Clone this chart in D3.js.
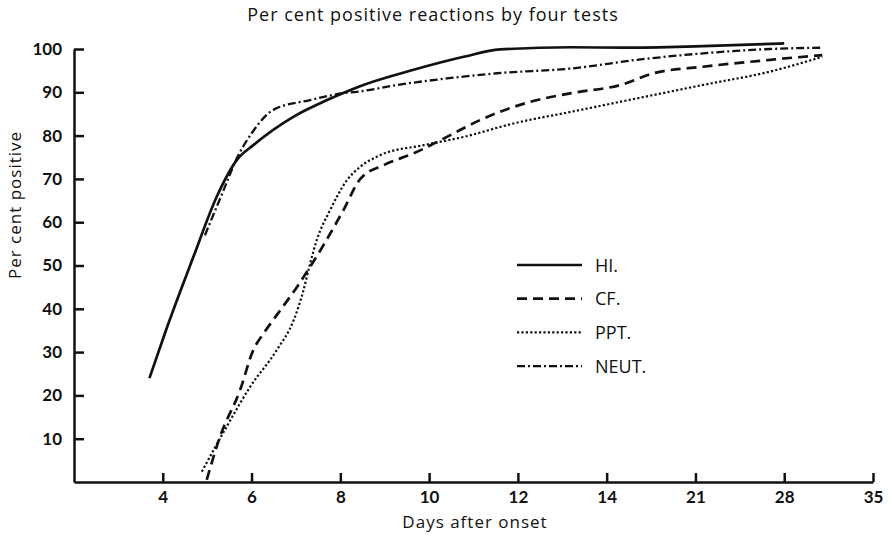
<!doctype html>
<html>
  <head>
    <script src="https://d3js.org/d3.v7.min.js"></script>
    <style>
      body { margin: 0; background: #fff; }
    </style>
  </head>
  <body>
    <script>
    // days on the x axis are not evenly spaced: 4..14 by 2, then weekly
    var dayTicks = [4, 6, 8, 10, 12, 14, 21, 28, 35];
    var dayBreaks = [2, 4, 6, 8, 10, 12, 14, 21, 28, 35];
    var pctTicks = [10, 20, 30, 40, 50, 60, 70, 80, 90, 100];

    var testNames = ['HI.', 'CF.', 'PPT.', 'NEUT.'];

    var hiData = [
      [3.7, 24], [4.07, 35], [4.69, 52], [5.22, 66], [5.67, 74.4], [6.04, 77.8],
      [6.95, 84.4], [7.7, 88.2], [8.52, 91.7], [9.65, 95.2], [10.78, 98.2],
      [11.6, 99.9], [13.2, 100.4], [15.4, 100.3], [21, 100.6], [28, 101.3]
    ];
    var cfData = [
      [4.99, 0.5], [5.29, 10.5], [5.74, 21.2], [6.04, 30.5], [6.27, 34.3],
      [6.6, 39], [7.02, 45], [7.32, 49.7], [7.62, 54.7], [8.07, 62.8],
      [8.45, 70], [9.0, 73.3], [9.65, 75.9], [10.4, 79.7], [11.15, 83.6],
      [12.28, 87.8], [13.2, 89.8], [15.1, 91.7], [17.7, 94.4], [21.6, 95.9],
      [26.9, 97.5], [31, 98.6]
    ];
    var pptData = [
      [4.88, 2.4], [5.44, 12.8], [5.97, 22], [6.57, 30.5], [6.95, 37.4],
      [7.17, 44.3], [7.32, 50.5], [7.47, 55.9], [7.77, 62.8], [8.15, 69.7],
      [8.45, 72.8], [8.9, 75.5], [9.88, 77.8], [10.78, 79.7], [11.9, 82.8],
      [13.2, 85.5], [16.4, 88.6], [21.6, 91.7], [26.9, 94.8], [31, 98.2]
    ];
    var neutData = [
      [4.95, 57], [5.37, 67.4], [5.67, 74.8], [6.0, 80.5], [6.5, 86],
      [7.32, 88.2], [8.07, 89.8], [8.37, 90.1], [9.28, 91.7], [10.4, 93.2],
      [11.53, 94.4], [13.2, 95.5], [16.4, 97.5], [21.6, 99], [26.9, 100],
      [31, 100.3]
    ];

    var width = 892;
    var height = 537;

    var margin = { top: 49, right: 19, bottom: 55, left: 74 };
    var innerWidth = width - margin.left - margin.right;
    var innerHeight = height - margin.top - margin.bottom;

    var svg = d3.select('body')
              .append('svg')
              .attr('width', width)
              .attr('height', height);

    var g = svg
            .append('g')
            .attr('transform', 'translate(' + margin.left + ',' + margin.top + ')');

    // piecewise scale: each break gets the same width
    var x = d3.scaleLinear()
              .domain(dayBreaks)
              .range(dayBreaks.map(function(d, i) {
                return i * innerWidth / (dayBreaks.length - 1);
              }));

    var y = d3.scaleLinear()
              .domain([0, 100])
              .range([innerHeight, 0]);

    var xAxis = d3.axisBottom(x)
                  .tickValues(dayTicks)
                  .tickSizeInner(-9)
                  .tickSizeOuter(0)
                  .tickPadding(9);

    var gx = g.append('g')
      .attr('transform', 'translate(0,' + innerHeight + ')')
      .call(xAxis);

    var yAxis = d3.axisLeft(y)
                  .tickValues(pctTicks)
                  .tickSizeInner(-10)
                  .tickSizeOuter(0)
                  .tickPadding(12);

    var gy = g.append('g').call(yAxis);

    [gx, gy].forEach(function(a) {
      a.attr('font-family', 'Lato, sans-serif').attr('font-size', 17);
      a.select('.domain').attr('stroke', '#111').attr('stroke-width', 2.5);
      a.selectAll('.tick line').attr('stroke', '#111').attr('stroke-width', 2.5);
      a.selectAll('.tick text')
        .attr('font-weight', 'bold')
        .attr('fill', '#111');
    });

    var line = d3.line()
                 .x(function(d) { return x(d[0]); })
                 .y(function(d) { return y(d[1]); })
                 .curve(d3.curveMonotoneX);

    var series = [
      { name: testNames[0], data: hiData, dash: null, w: 2.7 },
      { name: testNames[1], data: cfData, dash: '10,6', w: 2.7 },
      { name: testNames[2], data: pptData, dash: '2.2,2.2', w: 2.2 },
      { name: testNames[3], data: neutData, dash: '8,3,2,3', w: 2.3 }
    ];

    series.forEach(function(s) {
      g.append('path')
        .datum(s.data)
        .attr('fill', 'none')
        .attr('stroke', '#111')
        .attr('stroke-width', s.w)
        .attr('stroke-dasharray', s.dash)
        .attr('d', line);
    });

    // legend
    var legend = svg.append('g')
                    .attr('transform', 'translate(517,265)');

    series.forEach(function(s, i) {
      var row = legend.append('g')
                      .attr('transform', 'translate(0,' + (i * 33.7) + ')');
      row.append('line')
        .attr('x1', 0)
        .attr('x2', 65)
        .attr('stroke', '#111')
        .attr('stroke-width', s.w)
        .attr('stroke-dasharray', s.dash);
      row.append('text')
        .attr('x', 78)
        .attr('y', 6.5)
        .attr('font-family', '"Open Sans", sans-serif')
        .attr('font-size', '18px')
        .attr('fill', '#111')
        .text(s.name);
    });

    // titles
    svg.append('text')
      .attr('x', 433)
      .attr('y', 21)
      .attr('text-anchor', 'middle')
      .attr('font-family', '"Open Sans", sans-serif')
      .attr('font-size', '18px')
      .attr('font-weight', 500)
      .attr('letter-spacing', '1px')
      .attr('fill', '#111')
      .text('Per cent positive reactions by four tests');

    svg.append('text')
      .attr('x', 475)
      .attr('y', 528)
      .attr('text-anchor', 'middle')
      .attr('font-family', '"Open Sans", sans-serif')
      .attr('font-size', '17px')
      .attr('letter-spacing', '1px')
      .attr('fill', '#111')
      .text('Days after onset');

    svg.append('text')
      .attr('transform', 'translate(21,205) rotate(-90)')
      .attr('text-anchor', 'middle')
      .attr('font-family', '"Open Sans", sans-serif')
      .attr('font-size', '17px')
      .attr('letter-spacing', '1px')
      .attr('fill', '#111')
      .text('Per cent positive');

    </script>
  </body>
</html>
